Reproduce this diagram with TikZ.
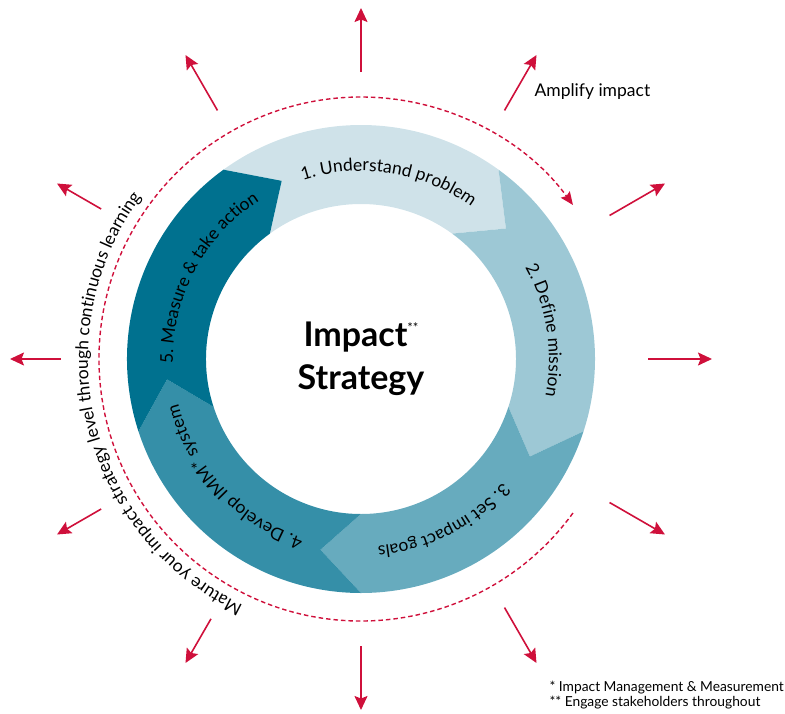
\documentclass[tikz,border=0pt]{standalone}
\usepackage{fontspec}
\setmainfont{Lato}
\usepackage{tikz}
\usetikzlibrary{arrows.meta,decorations.text,positioning}
\definecolor{imred}{RGB}{207,16,59}
\definecolor{stepone}{RGB}{207,226,233}
\definecolor{steptwo}{RGB}{157,200,213}
\definecolor{stepthree}{RGB}{103,171,190}
\definecolor{stepfour}{RGB}{53,143,168}
\definecolor{stepfive}{RGB}{0,113,143}
\newcommand{\lblfont}{\fontsize{17.5}{21}\selectfont}
% one chevron piece of the ring: start angle, end angle, colour
\newcommand{\ringpiece}[3]{%
  \fill[#3] (#1:234pt) arc[start angle=#1, end angle=#2, radius=234pt]
    -- ({#2-12}:195pt) -- (#2:155pt)
    arc[start angle=#2, end angle=#1, radius=155pt]
    -- ({#1-12}:195pt) -- cycle;}
% label set along a clockwise arc, centred on the given angle
\newcommand{\arclabel}[3]{%
  \path[decorate, decoration={text along path, text align=center,
    text={|\lblfont|#3}}]
    ({#1+45}:#2) arc[start angle={#1+45}, end angle={#1-45}, radius=#2];}

\begin{document}
\begin{tikzpicture}[x=1pt,y=1pt,
  outarrow/.style={draw=imred, line width=1.6pt,
    -{Stealth[length=14pt,width=13pt,inset=2.5pt]}},
  learnarc/.style={draw=imred, line width=1.4pt, dash pattern=on 4.5pt off 3pt,
    -{Stealth[length=13pt,width=11pt,inset=2pt]}},
  notetext/.style={font=\fontsize{13.8}{16}\selectfont}]
\useasboundingbox (-361,-354) rectangle (424,359);
\coordinate (c) at (0,0);
%
\ringpiece{126}{54}{stepone}
\ringpiece{54}{-18}{steptwo}
\ringpiece{-18}{-90}{stepthree}
\ringpiece{-90}{-162}{stepfour}
\ringpiece{-162}{-234}{stepfive}
%
\arclabel{81}{188pt}{1. Understand problem}
\arclabel{9}{188pt}{2. Define mission}
\arclabel{-63}{188pt}{3. Set impact goals}
\arclabel{-137}{188pt}{4. Develop IMM* system}
\arclabel{-208}{188pt}{5. Measure {\&} take action}
%
\node[align=center, font=\bfseries\fontsize{34}{43}\selectfont] (title) at (c)
  {Impact\raisebox{14pt}{\mdseries\fontsize{13}{13}\selectfont **}\\Strategy};
%
\foreach \ang/\rad in {0/287,30/287,60/287,90/287,120/287,150/300,
                       180/300,210/300,240/300,270/287,300/287,330/287}
  \draw[outarrow] ([shift={(\ang:\rad pt)}]c) -- ([shift={(\ang:351pt)}]c);
%
\draw[learnarc] ([shift={(-36:262pt)}]c) arc[start angle=-36, end angle=-324, radius=262pt];
\path[decorate, decoration={text along path, text align=center,
  text={|\lblfont|Mature your impact strategy level through continuous learning}}]
  (260:273pt) arc[start angle=260, end angle=128, radius=273pt];
%
\node[font=\lblfont, anchor=base west] (amplify) at (170,263) {Amplify impact};
\node[notetext, anchor=base west] (note1) at (185,-332) {* Impact Management \& Measurement};
\node[notetext, anchor=base west] (note2) at (185,-347) {** Engage stakeholders throughout};
\end{tikzpicture}
\end{document}
